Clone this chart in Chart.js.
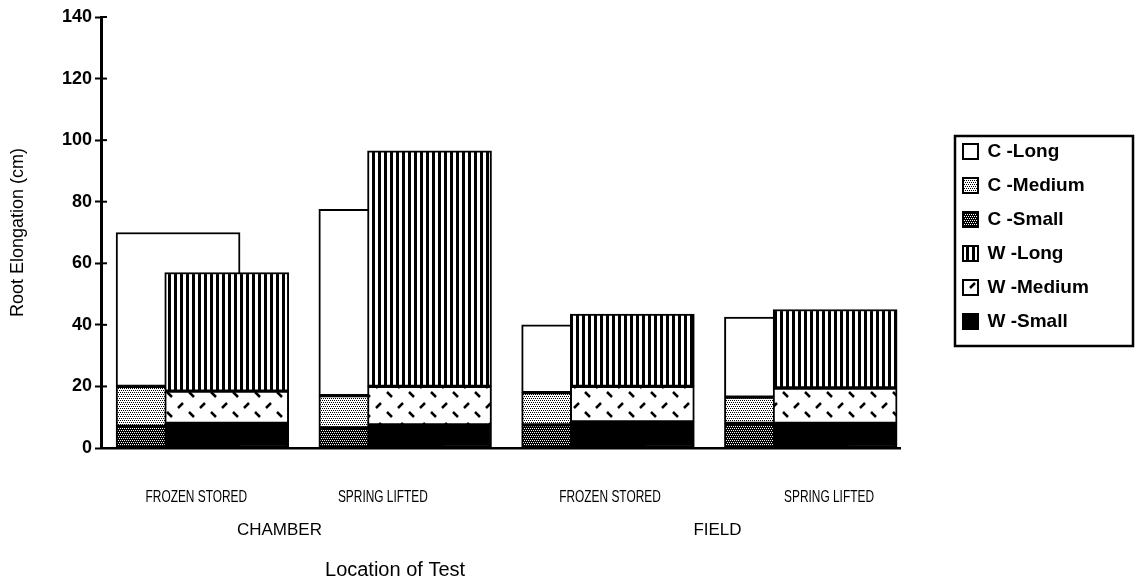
<!DOCTYPE html>
<html>
<head>
<meta charset="utf-8">
<script src="https://cdn.jsdelivr.net/npm/chart.js@4.4.0/dist/chart.umd.min.js"></script>
<style>
  html, body { margin: 0; padding: 0; background: #fff; }
</style>
</head>
<body>
<canvas id="myChart" width="1136" height="583"></canvas>
<script>
// categories along the x axis, and the location groups under them
const treatments = ['FROZEN STORED', 'SPRING LIFTED', 'FROZEN STORED', 'SPRING LIFTED'];
const locations = ['CHAMBER', 'FIELD'];
const yTicks = [0, 20, 40, 60, 80, 100, 120, 140];

// segment heights in cm (bottom to top of each stack)
const cSmall  = [7, 6.5, 7.5, 8];
const cMedium = [13, 10.5, 10.5, 8.5];
const cLong   = [50, 60.5, 22, 26];
const wSmall  = [8, 7.5, 8.5, 8];
const wMedium = [10.5, 12.5, 11.5, 11.5];
const wLong   = [38.5, 76.5, 23.5, 25.5];

const FONT = "'Liberation Sans', Arial, sans-serif";
const OFF = 0.12;                          // C bar left of the category, W bar right of it
const labelAt = [-0.03, 0.89, 2.01, 3.09]; // where the treatment names sit along x
const groupAt = [0.38, 2.54];              // where CHAMBER / FIELD sit
const TITLE_AT = 0.95;                     // where the axis title sits

function tile(w, h, draw) {
    const c = document.createElement('canvas');
    c.width = w; c.height = h;
    const g = c.getContext('2d');
    g.fillStyle = '#fff';
    g.fillRect(0, 0, w, h);
    draw(g);
    return g.createPattern(c, 'repeat');
}

const lightDots = tile(4, 4, g => {
    g.fillStyle = '#000';
    [[0, 0], [2, 0], [1, 2], [3, 2]].forEach(p => g.fillRect(p[0], p[1], 1, 1));
});
const darkDots = tile(4, 4, g => {
    g.fillStyle = '#000';
    g.fillRect(0, 0, 4, 4);
    g.fillStyle = '#fff';
    [[0, 0], [2, 0], [1, 2], [3, 2]].forEach(p => g.fillRect(p[0], p[1], 1, 1));
});
const stripes = tile(6, 1, g => {
    g.fillStyle = '#000';
    g.fillRect(0, 0, 3, 1);
});
const dashes = tile(22, 20, g => {
    g.strokeStyle = '#000';
    g.lineWidth = 2.5;
    g.beginPath();
    g.moveTo(2, 8); g.lineTo(7, 3);
    g.moveTo(13, 12); g.lineTo(18, 17);
    g.stroke();
});

function points(vals, shift) {
    return vals.map((v, i) => ({ x: i + shift, y: v }));
}

function bar(label, vals, stack, order, fill) {
    return {
        label,
        data: points(vals, stack === 'C' ? -OFF : OFF),
        stack,
        order,
        backgroundColor: fill,
        borderColor: '#000',
        borderWidth: 2,
        borderSkipped: false,
        barThickness: 124,
        grouped: false
    };
}

// lower order = lower in the stack and drawn on top, so W covers C
const datasets = [
    bar('C -Long', cLong, 'C', 5, '#fff'),
    bar('C -Medium', cMedium, 'C', 4, lightDots),
    bar('C -Small', cSmall, 'C', 3, darkDots),
    bar('W -Long', wLong, 'W', 2, stripes),
    bar('W -Medium', wMedium, 'W', 1, dashes),
    bar('W -Small', wSmall, 'W', 0, '#000')
];

// the original set the treatment names in a condensed face:
// squeeze each label horizontally around its own anchor
function squeeze(scale, sx) {
    if (scale._squeezed) return;
    const drawLabels = scale.drawLabels;
    scale.drawLabels = function (area) {
        const c = this.ctx;
        c.rotate = function (a) {
            CanvasRenderingContext2D.prototype.rotate.call(this, a);
            this.scale(sx, 1);
        };
        drawLabels.call(this, area);
        delete c.rotate;
    };
    scale._squeezed = true;
}

const legendFrame = {
    id: 'legendFrame',
    beforeLayout(chart) {
        const L = chart.legend;
        if (L && !L._wide) {
            const fit = L.fit;
            L.fit = function () { fit.call(this); this.width = 236; };
            L._wide = true;
        }
    },
    afterLayout(chart) {
        const L = chart.legend;
        L.left = 948;
        L.top = 127;
        squeeze(chart.scales.x, 0.7);
    },
    afterDraw(chart) {
        const ctx = chart.ctx;
        const y = chart.scales.y;
        ctx.save();
        ctx.strokeStyle = '#000';
        ctx.lineWidth = 2.5;
        ctx.strokeRect(955, 136, 178, 210);
        // inner half of the cross ticks on the value axis
        ctx.lineWidth = 2;
        y.ticks.forEach(t => {
            const py = y.getPixelForValue(t.value);
            ctx.beginPath();
            ctx.moveTo(y.right, py);
            ctx.lineTo(y.right + 6, py);
            ctx.stroke();
        });
        ctx.restore();
    }
};

const xBase = {
    type: 'linear',
    position: 'bottom',
    offset: false,
    min: -0.5,
    max: 3.44,
    grid: { display: false, drawTicks: false, tickLength: 0 },
    border: { display: false }
};

const ch = document.getElementById('myChart').getContext('2d');

new Chart(ch, {
    type: 'bar',
    data: { datasets },
    options: {
        responsive: false,
        animation: false,
        layout: { padding: { top: 17, left: 0, right: 0, bottom: 0 } },
        plugins: {
            tooltip: { enabled: false },
            legend: {
                position: 'right',
                align: 'start',
                labels: {
                    color: '#000',
                    font: { family: FONT, size: 19, weight: 'bold' },
                    boxWidth: 15,
                    boxHeight: 15,
                    padding: 15,
                    sort: (a, b) => a.datasetIndex - b.datasetIndex
                }
            }
        },
        scales: {
            x: Object.assign({}, xBase, {
                weight: 0,
                border: { display: true, color: '#000', width: 2.5 },
                afterBuildTicks: s => { s.ticks = labelAt.map(v => ({ value: v })); },
                afterFit: s => { s.height = 65; },
                ticks: {
                    color: '#000',
                    padding: 39,
                    maxRotation: 0,
                    autoSkip: false,
                    font: { family: FONT, size: 17 },
                    callback: (v, i) => treatments[i]
                }
            }),
            x2: Object.assign({}, xBase, {
                weight: 1,
                afterBuildTicks: s => { s.ticks = groupAt.map(v => ({ value: v })); },
                afterFit: s => { s.height = 34; },
                ticks: {
                    color: '#000',
                    padding: 7,
                    maxRotation: 0,
                    autoSkip: false,
                    font: { family: FONT, size: 17 },
                    callback: (v, i) => locations[i]
                }
            }),
            x3: Object.assign({}, xBase, {
                weight: 2,
                afterBuildTicks: s => { s.ticks = [{ value: TITLE_AT }]; },
                afterFit: s => { s.height = 36; },
                ticks: {
                    color: '#000',
                    padding: 11,
                    maxRotation: 0,
                    autoSkip: false,
                    font: { family: FONT, size: 20 },
                    callback: () => 'Location of Test'
                }
            }),
            y: {
                stacked: true,
                min: yTicks[0],
                max: yTicks[yTicks.length - 1],
                afterBuildTicks: s => { s.ticks = yTicks.map(v => ({ value: v })); },
                afterFit: s => { s.width = 101; },
                grid: { drawOnChartArea: false, drawTicks: true, tickLength: 6, tickWidth: 2, tickColor: '#000' },
                border: { display: true, color: '#000', width: 3 },
                ticks: {
                    color: '#000',
                    padding: 3,
                    font: { family: FONT, size: 18, weight: 'bold' }
                },
                title: {
                    display: true,
                    text: 'Root Elongation (cm)',
                    color: '#000',
                    font: { family: FONT, size: 18 },
                    padding: { top: 7, bottom: 0 }
                }
            }
        }
    },
    plugins: [legendFrame]
});
</script>
</body>
</html>
